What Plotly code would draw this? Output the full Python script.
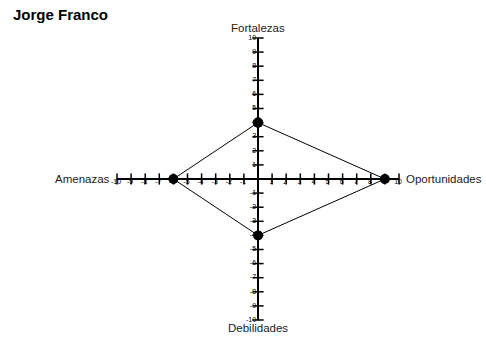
import plotly.graph_objects as go

# data
title_text = "Jorge Franco"
axis_names = ["Fortalezas", "Oportunidades", "Debilidades", "Amenazas"]
point_x = [0, 9, 0, -6]
point_y = [4, 0, -4, 0]
ticks = [-10, -9, -8, -7, -6, -5, -4, -3, -2, -1, 1, 2, 3, 4, 5, 6, 7, 8, 9, 10]

fig = go.Figure()

# axes cross
fig.add_shape(type="line", x0=-10, x1=10, y0=0, y1=0, line=dict(color="black", width=2))
fig.add_shape(type="line", x0=0, x1=0, y0=-10, y1=10, line=dict(color="black", width=2))

# tick marks
fig.add_trace(go.Scatter(
    x=ticks, y=[0] * len(ticks), mode="markers",
    marker=dict(symbol="line-ns", size=8, line=dict(width=1.5, color="black")),
    hoverinfo="skip", cliponaxis=False))
fig.add_trace(go.Scatter(
    x=[0] * len(ticks), y=ticks, mode="markers",
    marker=dict(symbol="line-ew", size=8, line=dict(width=1.5, color="black")),
    hoverinfo="skip", cliponaxis=False))

# tick labels
tick_font = dict(size=7, family="Arial", color="black")
fig.add_trace(go.Scatter(
    x=ticks, y=[0] * len(ticks), mode="text",
    text=[str(t) + " " for t in ticks], textposition="bottom center",
    textfont=tick_font, hoverinfo="skip", cliponaxis=False))
fig.add_trace(go.Scatter(
    x=[0] * len(ticks), y=ticks, mode="text",
    text=[str(t) + " " for t in ticks], textposition="middle left",
    textfont=tick_font, hoverinfo="skip", cliponaxis=False))

# polygon
fig.add_trace(go.Scatter(
    x=point_x + point_x[:1], y=point_y + point_y[:1],
    mode="lines+markers",
    line=dict(color="black", width=1),
    marker=dict(color="black", size=10),
    hoverinfo="skip", cliponaxis=False))

# axis names
name_font = dict(size=11.5, family="Arial", color="#222")
fig.add_annotation(x=0, y=10, text=axis_names[0], showarrow=False, yanchor="bottom", yshift=2,
                   font=name_font)
fig.add_annotation(x=10, y=0, text=axis_names[1], showarrow=False, xanchor="left", xshift=5,
                   font=name_font)
fig.add_annotation(x=0, y=-10, text=axis_names[2], showarrow=False, yanchor="top", yshift=0,
                   font=name_font)
fig.add_annotation(x=-10, y=0, text=axis_names[3], showarrow=False, xanchor="right", xshift=-5,
                   font=name_font)

fig.add_annotation(x=-0.375, y=1.12, xref="paper", yref="paper", xanchor="left", yanchor="top",
                   text="<b>" + title_text + "</b>", showarrow=False,
                   font=dict(size=15, family="Arial", color="black"))

fig.update_layout(
    width=486, height=338,
    margin=dict(l=117, r=87, t=38, b=18),
    showlegend=False,
    plot_bgcolor="white", paper_bgcolor="white",
    xaxis=dict(range=[-10, 10], visible=False, fixedrange=True),
    yaxis=dict(range=[-10, 10], visible=False, fixedrange=True))

fig.write_html("out.html", config={"displayModeBar": False},
               post_script="document.body.style.margin='0';")
